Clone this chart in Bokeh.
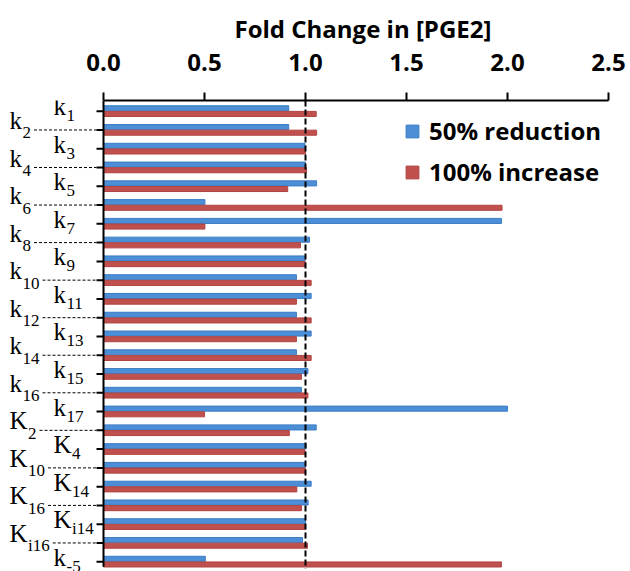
from bokeh.plotting import figure
from bokeh.models import (Range1d, FixedTicker, ColumnDataSource, Legend,
                          LegendItem, NumeralTickFormatter)
from bokeh.core.properties import value
from bokeh.transform import dodge
from bokeh.embed import file_html
from bokeh.resources import INLINE

# ---------------- data ----------------
param_main = ["k"] * 17 + ["K", "K", "K", "K", "K", "K", "K", "k"]
param_sub = ["1", "2", "3", "4", "5", "6", "7", "8", "9", "10", "11", "12", "13",
             "14", "15", "16", "17", "2", "4", "10", "14", "16", "i14", "i16", "-5"]
reduction_50 = [0.917, 0.917, 0.997, 1.0, 1.055, 0.502, 1.97, 1.02, 0.997, 0.955,
                1.028, 0.955, 1.028, 0.955, 1.012, 0.98, 2.0, 1.053, 1.003, 1.0,
                1.028, 1.013, 1.0, 0.985, 0.504]
increase_100 = [1.053, 1.055, 1.0, 1.005, 0.912, 1.973, 0.502, 0.975, 1.0, 1.028,
                0.955, 1.028, 0.955, 1.028, 0.98, 1.012, 0.5, 0.92, 0.997, 1.0,
                0.957, 0.98, 1.0, 1.01, 1.97]
x_ticks = [0.0, 0.5, 1.0, 1.5, 2.0, 2.5]
ref_line = 1.0
series_names = ["50% reduction", "100% increase"]
axis_title = "Fold Change in [PGE2]"

# ---------------- layout ----------------
W, H = 630, 571
AX_LEFT = 103          # pixel position of x = 0
BR, BT, BB = 22, 100, 0
FW = W - BR            # frame starts at the canvas left edge
FH = H - BT - BB
XMAX = 2.5
PPU = (FW - AX_LEFT) / XMAX      # pixels per x unit
Y_TOP, Y_BOT = -0.57, 24.52
PPY = FH / (Y_BOT - Y_TOP)       # pixels per category
n = len(param_main)

BLUE, BLUE_EDGE = "#4D8FD6", "#3A7CC6"
RED, RED_EDGE = "#C0504D", "#B04440"
SANS = "Open Sans"
SERIF = "Liberation Serif"


def px_to_x(px):
    return (px - AX_LEFT) / PPU


def dy(px):
    return px / PPY


AXIS_BOTTOM = n - 1 + dy(5)
DASH_BOTTOM = n - 1 + dy(7)

p = figure(width=W, height=H, x_range=Range1d(px_to_x(0), XMAX),
           y_range=Range1d(Y_BOT, Y_TOP), x_axis_location="above", y_axis_location=None,
           output_backend="svg", toolbar_location=None,
           min_border_left=0, min_border_right=BR, min_border_top=BT, min_border_bottom=BB)
p.outline_line_color = None
p.xgrid.grid_line_color = None
p.ygrid.grid_line_color = None
p.background_fill_color = "white"

# axis title, centred over the data part of the axis
p.title.text = axis_title
p.title.align = "left"
p.title.offset = 234
p.title.standoff = 11
p.title.text_font = SANS
p.title.text_font_style = "bold"
p.title.text_font_size = "24px"
p.title.text_color = "black"

src = ColumnDataSource(dict(idx=list(range(n)), red50=reduction_50, inc100=increase_100))

rb = p.hbar(y=dodge("idx", -0.155), left=0, right="red50", height=0.27, source=src,
            fill_color=BLUE, line_color=BLUE_EDGE, line_width=1)
rr = p.hbar(y=dodge("idx", 0.145), left=0, right="inc100", height=0.27, source=src,
            fill_color=RED, line_color=RED_EDGE, line_width=1)

# dashed reference line at fold change 1
p.segment(x0=[ref_line], x1=[ref_line], y0=[Y_TOP], y1=[DASH_BOTTOM],
          line_color="black", line_dash="6 3", line_width=2)

# top axis, bounded to the data range
xa = p.xaxis[0]
xa.bounds = (0, XMAX)
xa.ticker = FixedTicker(ticks=x_ticks)
xa.formatter = NumeralTickFormatter(format="0.0")
xa.axis_line_color = "black"
xa.axis_line_width = 2
xa.minor_tick_line_color = None
xa.major_tick_in = 0
xa.major_tick_out = 8
xa.major_tick_line_width = 2
xa.major_label_standoff = 22
xa.major_label_text_font = SANS
xa.major_label_text_font_style = "bold"
xa.major_label_text_font_size = "24px"
xa.major_label_text_color = "black"

# left axis: line + ticks
p.segment(x0=[0], x1=[0], y0=[Y_TOP], y1=[AXIS_BOTTOM], line_color="black", line_width=2)
p.segment(x0=[px_to_x(AX_LEFT - 7)] * n, x1=[0] * n, y0=list(range(n)), y1=list(range(n)),
          line_color="black", line_width=2)

# parameter labels with subscripts and dashed leaders
MAIN_SIZE, SUB_SIZE = 25, 17
main_w = {"k": 0.5 * MAIN_SIZE, "K": 0.72 * MAIN_SIZE}
char_w = {"i": 0.28 * SUB_SIZE, "-": 0.33 * SUB_SIZE}
mx, my, mt = [], [], []
sx, sy, st = [], [], []
lx0, lx1, ly = [], [], []
for i, (m, s) in enumerate(zip(param_main, param_sub)):
    inner = (i % 2 == 0)
    left = 53 if inner else 9
    sub_left = left + main_w[m] + 0.5
    sub_w = sum(char_w.get(c, 0.5 * SUB_SIZE) for c in s)
    mx.append(px_to_x(left)); my.append(i + dy(-4.5 if inner else -9.5)); mt.append(m)
    sx.append(px_to_x(sub_left)); sy.append(i + dy(4.5 if inner else 3.0)); st.append(s)
    if not inner:
        lx0.append(px_to_x(sub_left + sub_w + 3)); lx1.append(px_to_x(AX_LEFT - 7)); ly.append(i)

p.text(x=mx, y=my, text=mt, text_font=value(SERIF), text_font_size=f"{MAIN_SIZE}px",
       text_color="black", text_align="left", text_baseline="alphabetic")
p.text(x=sx, y=sy, text=st, text_font=value(SERIF), text_font_size=f"{SUB_SIZE}px",
       text_color="black", text_align="left", text_baseline="alphabetic")
p.segment(x0=lx0, x1=lx1, y0=ly, y1=ly, line_color="black", line_width=1, line_dash="3 2")

legend = Legend(items=[LegendItem(label=series_names[0], renderers=[rb]),
                       LegendItem(label=series_names[1], renderers=[rr])],
                location=(404, FH - 88), orientation="vertical",
                glyph_width=16, glyph_height=16, label_standoff=9, spacing=8,
                padding=0, margin=0, border_line_alpha=0, background_fill_alpha=0,
                label_text_font=SANS, label_text_font_style="bold",
                label_text_font_size="24px", label_text_color="black")
p.add_layout(legend)

open("out.html", "w").write(file_html(p, INLINE))
